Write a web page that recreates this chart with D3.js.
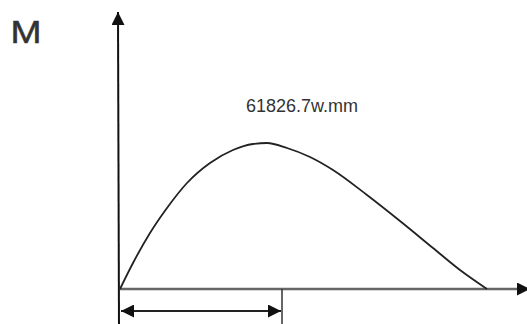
<!DOCTYPE html>
<html lang="en">
<head>
    <meta charset="UTF-8">
    <title>M diagram</title>
    <script src="https://d3js.org/d3.v7.min.js" charset="utf-8"></script>
    <style>
        body { margin: 0; background: #fff; }
        text { font-family: "Liberation Sans", Arial, sans-serif; fill: #333; }
    </style>
</head>
<body>
<script>
    // moment curve, x = position along beam, M = moment (w.mm)
    let xs = [0, 13, 30, 47, 67, 90, 113, 133, 147, 167, 190, 213, 247, 280, 313, 340, 367];
    let ms = [0, 11010, 23714, 34301, 44888, 53357, 58862, 61403, 61826.7, 59710, 55899, 50394, 39807, 28796, 17362, 8046, 0];
    let peakLabel = '61826.7w.mm';
    let axisLabel = 'M';
    let spanX = 162;   // end of the dimension arrow

    let width = 527, height = 324;
    let svg = d3.select('body').append('svg').attr('width', width).attr('height', height);

    let x = d3.scaleLinear().domain([0, 410]).range([120, 530]);
    let y = d3.scaleLinear().domain([0, 117300]).range([289, 12]);

    let defs = svg.append('defs');
    defs.append('marker')
        .attr('id', 'arrBig')
        .attr('viewBox', '0 0 10 10')
        .attr('refX', 10).attr('refY', 5)
        .attr('markerWidth', 15).attr('markerHeight', 13)
        .attr('markerUnits', 'userSpaceOnUse')
        .attr('orient', 'auto-start-reverse')
        .append('path').attr('d', 'M0,0 L10,5 L0,10 z').attr('fill', '#111');

    // y axis (runs a bit below the x axis)
    svg.append('line')
        .attr('x1', x(0) - 1).attr('y1', 330)
        .attr('x2', x(0) - 2).attr('y2', y(y.domain()[1]))
        .attr('stroke', '#111').attr('stroke-width', 2)
        .attr('marker-end', 'url(#arrBig)');

    // x axis
    svg.append('line')
        .attr('x1', x(0)).attr('y1', y(0))
        .attr('x2', x(x.domain()[1])).attr('y2', y(0))
        .attr('stroke', '#666').attr('stroke-width', 2.5)
        .attr('marker-end', 'url(#arrBig)');

    // curve
    let line = d3.line()
        .x(function (d, i) { return x(xs[i]); })
        .y(function (d) { return y(d); })
        .curve(d3.curveMonotoneX);
    svg.append('path')
        .attr('d', line(ms))
        .attr('fill', 'none')
        .attr('stroke', '#222')
        .attr('stroke-width', 1.8);

    // dimension tick + double arrow
    svg.append('line')
        .attr('x1', x(spanX)).attr('y1', y(0))
        .attr('x2', x(spanX)).attr('y2', 330)
        .attr('stroke', '#333').attr('stroke-width', 1.5);
    svg.append('line')
        .attr('x1', x(0) + 1).attr('y1', 311)
        .attr('x2', x(spanX) - 1).attr('y2', 311)
        .attr('stroke', '#222').attr('stroke-width', 2)
        .attr('marker-start', 'url(#arrBig)')
        .attr('marker-end', 'url(#arrBig)');

    // labels
    svg.append('text')
        .attr('transform', 'translate(10.5,42.5) scale(1.2,1)')
        .attr('font-size', 31)
        .attr('fill', '#2f3238')
        .attr('stroke', '#2f3238')
        .attr('stroke-width', 0.5)
        .text(axisLabel);
    svg.append('text')
        .attr('x', 302).attr('y', 112)
        .attr('text-anchor', 'middle')
        .attr('font-size', 18)
        .text(peakLabel);
</script>
</body>
</html>
